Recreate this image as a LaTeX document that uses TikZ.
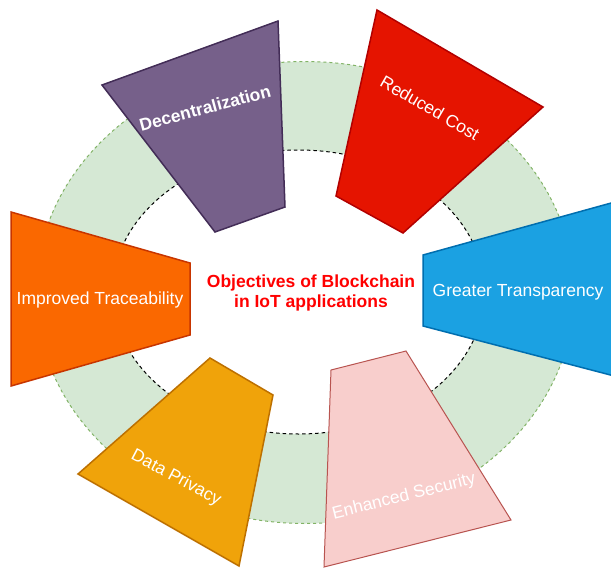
\documentclass[tikz,border=0pt]{standalone}
\usepackage{fontspec}
\setmainfont{Liberation Sans}
\usepackage{tikz}
\usetikzlibrary{positioning}
\definecolor{ringfill}{HTML}{D5E8D4}
\definecolor{ringedge}{HTML}{82B366}
\definecolor{decfill}{HTML}{76608A}
\definecolor{decedge}{HTML}{432D57}
\definecolor{costfill}{HTML}{E51400}
\definecolor{costedge}{HTML}{B20000}
\definecolor{transfill}{HTML}{1BA1E2}
\definecolor{transedge}{HTML}{006EAF}
\definecolor{tracefill}{HTML}{FA6800}
\definecolor{traceedge}{HTML}{C73500}
\definecolor{privfill}{HTML}{F0A30A}
\definecolor{privedge}{HTML}{BD7000}
\definecolor{secfill}{HTML}{F8CECC}
\definecolor{secedge}{HTML}{B85450}
\tikzstyle{ringband} = [fill=ringfill, even odd rule]
\tikzstyle{outerline} = [draw=ringedge, line width=1pt, dash pattern=on 3pt off 3pt]
\tikzstyle{innerline} = [draw=black, line width=1pt, dash pattern=on 3.5pt off 3pt]
\tikzstyle{block} = [line width=1.5pt, line join=miter]
\tikzstyle{goal} = [text=white, inner sep=0pt, font=\fontsize{17.5}{20}\selectfont]
\tikzstyle{title} = [text={rgb,255:red,255;green,0;blue,0}, align=center, inner sep=0pt, font=\fontsize{17.5}{20}\selectfont\bfseries]

\begin{document}
\begin{tikzpicture}[x=1pt, y=-1pt]
\useasboundingbox (0,0) rectangle (611,568);

\path [ringband] (305,292.5) ellipse [x radius=269pt, y radius=231pt]
  (298.5,292) ellipse [x radius=186pt, y radius=142pt];
\draw [outerline] (305,292.5) ellipse [x radius=269pt, y radius=231pt];
\draw [innerline] (298.5,292) ellipse [x radius=186pt, y radius=142pt];

\filldraw [block, fill=decfill, draw=decedge] (102,85) -- (278,21) -- (285,207) -- (215,232) -- cycle;
\filldraw [block, fill=costfill, draw=costedge] (377,10) -- (543,107) -- (403,233) -- (336,196) -- cycle;
\filldraw [block, fill=transfill, draw=transedge] (423,255) -- (622,200) -- (622,378) -- (423,326) -- cycle;
\filldraw [block, fill=tracefill, draw=traceedge] (11,212) -- (190,263) -- (190,335) -- (11,386) -- cycle;
\filldraw [block, fill=privfill, draw=privedge] (210,358) -- (273,395) -- (239,566) -- (78,474) -- cycle;
\filldraw [block, line width=1pt, fill=secfill, draw=secedge] (331,370) -- (406,351) -- (511,520) -- (324,567) -- cycle;

\node (objectives) [title] at (311,293) {Objectives of Blockchain\\in IoT applications};
\node (decentral) [goal, rotate=15, font=\fontsize{17.5}{20}\selectfont\bfseries] at (205,108) {Decentralization};
\node (cost) [goal, rotate=-30] at (430,108) {Reduced Cost};
\node (transparency) [goal] at (518,292) {Greater Transparency};
\node (traceability) [goal] at (100,300) {Improved Traceability};
\node (privacy) [goal, rotate=-28] at (176,478) {Data Privacy};
\node (security) [goal, rotate=14] at (404,497) {Enhanced Security};

\end{tikzpicture}
\end{document}
